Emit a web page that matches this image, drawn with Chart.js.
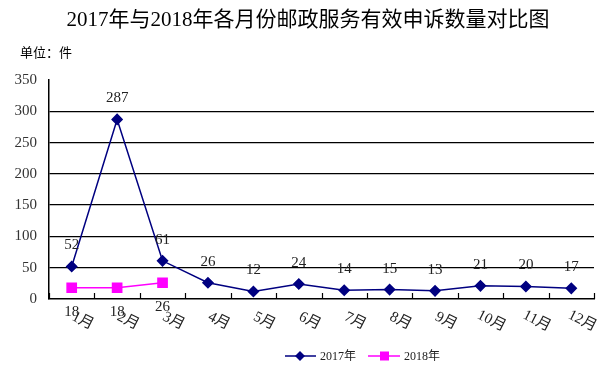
<!DOCTYPE html>
<html>
<head>
<meta charset="utf-8">
<script src="https://cdn.jsdelivr.net/npm/chart.js@4/dist/chart.umd.min.js"></script>
<style>
  html, body { margin: 0; padding: 0; background: #fff; }
  #wrap { width: 615px; height: 372px; }
</style>
</head>
<body>
<div id="wrap"><canvas id="chart" width="615" height="372"></canvas></div>
<script>
const months = ['1月', '2月', '3月', '4月', '5月', '6月', '7月', '8月', '9月', '10月', '11月', '12月'];
const values2017 = [52, 287, 61, 26, 12, 24, 14, 15, 13, 21, 20, 17];
const values2018 = [18, 18, 26];
const yTicks = [0, 50, 100, 150, 200, 250, 300, 350];

const SERIF = '"Liberation Serif", "Noto Sans CJK SC", serif';
const NAVY = '#000080';
const PINK = '#ff00ff';

// titles, value labels, rotated month labels, inner ticks and legend
const decor = {
  id: 'decor',
  afterDraw(chart) {
    const { ctx, chartArea, scales } = chart;
    const x = scales.x;
    ctx.save();

    ctx.fillStyle = '#000';
    ctx.textAlign = 'center';
    ctx.textBaseline = 'middle';
    ctx.font = '21px ' + SERIF;
    ctx.fillText('2017年与2018年各月份邮政服务有效申诉数量对比图', 308, 20);
    ctx.textAlign = 'left';
    ctx.font = '13px "Noto Sans CJK SC", sans-serif';
    ctx.fillText('单位：件', 20, 52);

    // small tick marks between categories, pointing up into the plot
    ctx.strokeStyle = '#000';
    ctx.lineWidth = 1.2;
    for (let i = 0; i <= months.length; i++) {
      const px = Math.round(x.getPixelForValue(i - 0.5)) + 0.5;
      ctx.beginPath();
      ctx.moveTo(px, chartArea.bottom);
      ctx.lineTo(px, chartArea.bottom - 6);
      ctx.stroke();
    }

    // value labels
    ctx.font = '15px ' + SERIF;
    ctx.fillStyle = '#222';
    ctx.textAlign = 'center';
    chart.getDatasetMeta(0).data.forEach((pt, i) => {
      ctx.fillText(String(values2017[i]), pt.x, pt.y - 21);
    });
    chart.getDatasetMeta(1).data.forEach((pt, i) => {
      ctx.fillText(String(values2018[i]), pt.x, pt.y + 24);
    });

    // rotated month labels
    ctx.font = '15px ' + SERIF;
    months.forEach((m, i) => {
      const px = x.getPixelForValue(i);
      ctx.save();
      ctx.translate(px + 11, chartArea.bottom + 22);
      ctx.rotate(27 * Math.PI / 180);
      ctx.fillText(m, 0, 0);
      ctx.restore();
    });

    // legend
    const ly = 356;
    ctx.lineWidth = 1.5;
    ctx.strokeStyle = NAVY;
    ctx.beginPath(); ctx.moveTo(285, ly); ctx.lineTo(316, ly); ctx.stroke();
    ctx.fillStyle = NAVY;
    ctx.beginPath();
    ctx.moveTo(300, ly - 5); ctx.lineTo(305, ly); ctx.lineTo(300, ly + 5); ctx.lineTo(295, ly);
    ctx.closePath(); ctx.fill();
    ctx.strokeStyle = PINK;
    ctx.beginPath(); ctx.moveTo(368, ly); ctx.lineTo(400, ly); ctx.stroke();
    ctx.fillStyle = PINK;
    ctx.fillRect(380, ly - 4.5, 9, 9);
    ctx.fillStyle = '#222';
    ctx.textAlign = 'left';
    ctx.font = '12px ' + SERIF;
    ctx.fillText('2017年', 320, ly + 1);
    ctx.fillText('2018年', 404, ly + 1);

    ctx.restore();
  }
};

new Chart(document.getElementById('chart'), {
  type: 'line',
  data: {
    labels: months,
    datasets: [
      {
        label: '2017年',
        data: values2017,
        borderColor: NAVY,
        backgroundColor: NAVY,
        borderWidth: 1.5,
        pointStyle: 'rectRot',
        pointRadius: 5,
        pointHoverRadius: 5,
        tension: 0,
      },
      {
        label: '2018年',
        data: values2018,
        borderColor: PINK,
        backgroundColor: PINK,
        borderWidth: 1.5,
        pointStyle: 'rect',
        pointRadius: 6.5,
        pointHoverRadius: 6.5,
        tension: 0,
      },
    ],
  },
  options: {
    responsive: false,
    animation: false,
    layout: { padding: { left: 0, right: 21, top: 80, bottom: 0 } },
    plugins: { legend: { display: false }, tooltip: { enabled: false }, title: { display: false } },
    scales: {
      x: {
        offset: true,
        grid: { display: false },
        border: { display: true, color: '#000', width: 1.5 },
        ticks: { display: false },
        afterFit: (s) => { s.height = 73; },
      },
      y: {
        min: 0,
        max: 350,
        afterBuildTicks: (s) => { s.ticks = yTicks.map((v) => ({ value: v })); },
        grid: {
          color: (c) => (c.tick.value === 0 || c.tick.value === 350 ? 'rgba(0,0,0,0)' : '#000'),
          lineWidth: 1.3,
          drawTicks: false,
        },
        border: { display: true, color: '#000', width: 1.5 },
        ticks: { color: '#333', font: { family: SERIF, size: 15 }, padding: 12 },
        afterFit: (s) => { s.width = 49; },
      },
    },
  },
  plugins: [decor],
});
</script>
</body>
</html>
